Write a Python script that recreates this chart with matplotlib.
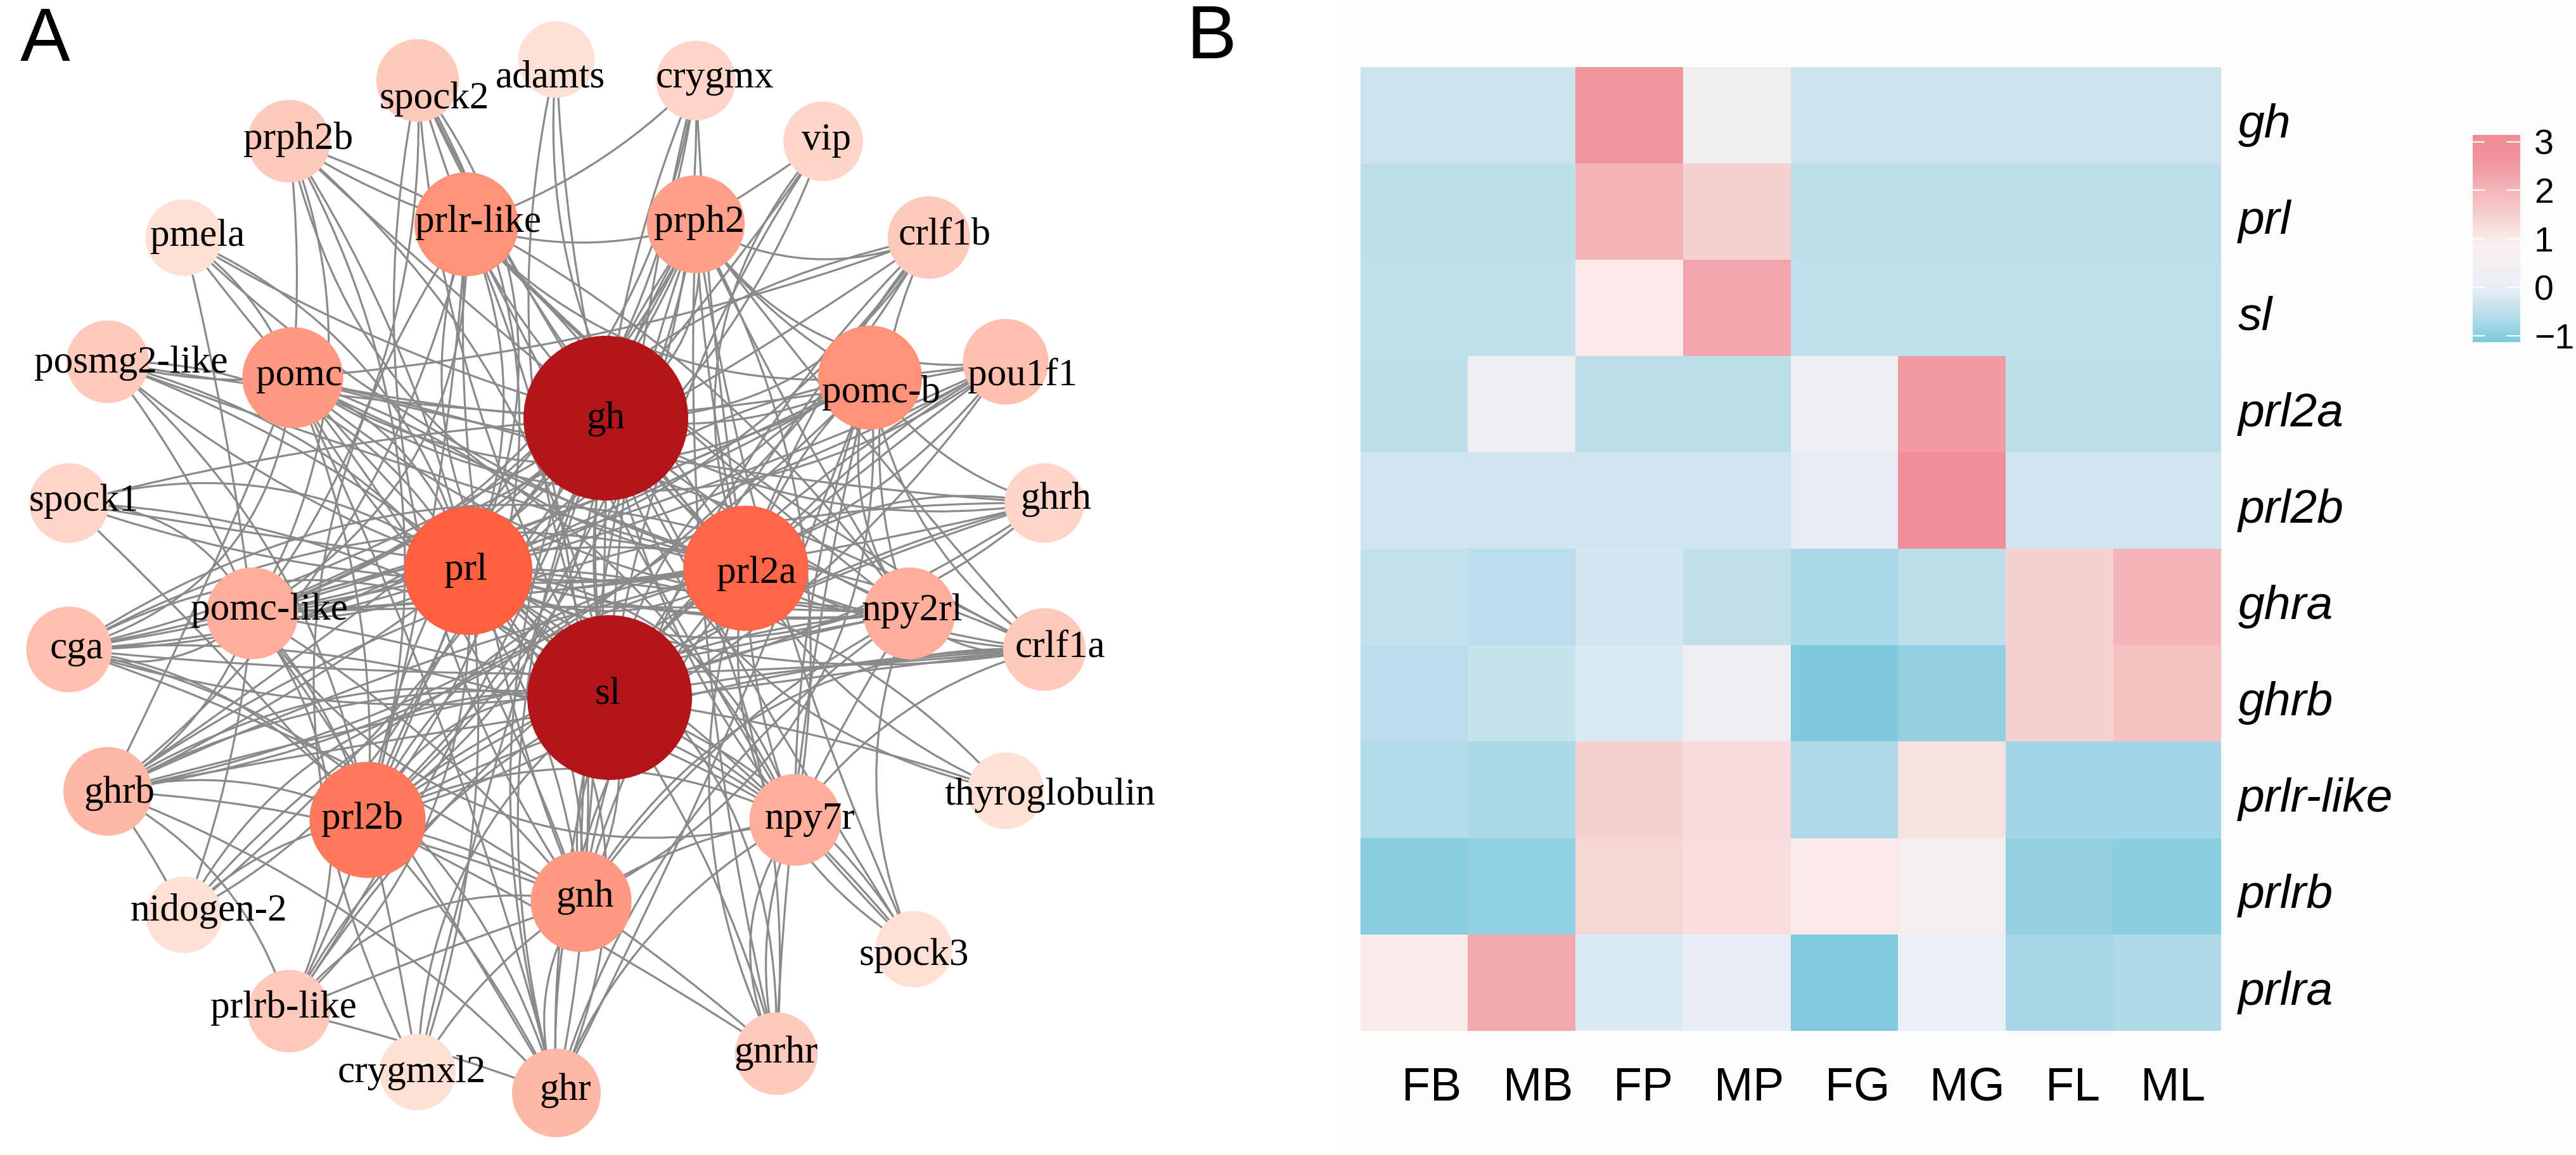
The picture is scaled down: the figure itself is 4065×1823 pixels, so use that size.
import numpy as np
import matplotlib
matplotlib.use("Agg")
import matplotlib.pyplot as plt
from matplotlib.colors import LinearSegmentedColormap
from matplotlib.patches import Circle, PathPatch, Rectangle
from matplotlib.path import Path

W, H = 4066, 1823

# network data
node_names = ['gh', 'sl', 'prl', 'prl2a', 'prl2b', 'pomc-b', 'prlr-like', 'pomc', 'gnh', 'prph2',
              'pomc-like', 'npy7r', 'npy2rl', 'ghrb', 'ghr', 'cga', 'pou1f1', 'gnrhr', 'crlf1b',
              'crlf1a', 'prlrb-like', 'prph2b', 'spock2', 'posmg2-like', 'ghrh', 'spock1',
              'crygmx', 'vip', 'spock3', 'thyroglobulin', 'pmela', 'nidogen-2', 'crygmxl2', 'adamts']
node_degree = [30, 30, 18, 17, 14, 10, 10, 9, 9, 8,
               6, 6, 6, 5, 5, 4, 4, 3, 3,
               3, 3, 3, 3, 3, 2, 2,
               2, 2, 1, 1, 1, 1, 1, 1]

outer_links = {
    'adamts': ['gh', 'sl', 'prl2a'],
    'spock2': ['gh', 'sl', 'prl', 'prlr-like', 'pomc-like', 'prl2a', 'prl2b', 'gnh'],
    'crygmx': ['gh', 'sl', 'prl', 'prl2b', 'prl2a', 'prlr-like', 'pomc-like'],
    'prph2b': ['gh', 'sl', 'prl', 'prl2a', 'prl2b', 'prlr-like', 'pomc', 'npy2rl', 'pomc-like'],
    'vip': ['gh', 'sl', 'prl2a', 'prph2', 'prl'],
    'prlr-like': ['gh', 'sl', 'prl', 'prl2a', 'prl2b', 'prph2', 'pomc-b', 'npy2rl', 'gnh', 'pomc-like', 'npy7r', 'ghrb', 'crlf1a'],
    'prph2': ['gh', 'sl', 'prl', 'prl2a', 'prl2b', 'crlf1b', 'npy2rl', 'pomc-b', 'pou1f1', 'crlf1a', 'npy7r', 'gnh', 'cga', 'pomc-like'],
    'pmela': ['gh', 'sl', 'pomc', 'prl', 'pomc-like', 'prl2a'],
    'crlf1b': ['gh', 'sl', 'prl', 'prl2a', 'prl2b', 'npy2rl', 'pomc', 'pomc-like', 'gnh', 'ghrb'],
    'posmg2-like': ['gh', 'sl', 'prl', 'prl2a', 'prl2b', 'pomc', 'gnh', 'npy2rl', 'pomc-like'],
    'pomc': ['gh', 'sl', 'prl', 'prl2a', 'prl2b', 'pomc-b', 'ghrb', 'npy2rl', 'gnh', 'cga', 'npy7r', 'crlf1a', 'ghrh'],
    'pomc-b': ['gh', 'sl', 'prl', 'prl2a', 'prl2b', 'pou1f1', 'ghrh', 'npy7r', 'gnh', 'crlf1a', 'cga', 'pomc-like', 'ghrb', 'npy2rl'],
    'pou1f1': ['gh', 'sl', 'prl', 'prl2a', 'prl2b', 'pomc-like', 'pomc', 'gnh', 'cga'],
    'spock1': ['gh', 'sl', 'prl', 'prl2b', 'prl2a', 'pomc-like', 'npy2rl'],
    'ghrh': ['gh', 'sl', 'prl', 'prl2a', 'prl2b', 'pomc-like', 'ghrb', 'cga'],
    'prl': ['gh', 'sl', 'prl2a', 'prl2b', 'pomc-like', 'npy2rl', 'npy7r', 'gnh', 'cga', 'ghrb', 'crlf1a', 'thyroglobulin'],
    'prl2a': ['gh', 'sl', 'prl2b', 'pomc-like', 'npy2rl', 'npy7r', 'gnh', 'cga', 'crlf1a', 'ghrb', 'thyroglobulin'],
    'pomc-like': ['gh', 'sl', 'prl2b', 'cga', 'npy2rl', 'ghrb', 'gnh', 'npy7r', 'crlf1a'],
    'npy2rl': ['gh', 'sl', 'prl2b', 'crlf1a', 'npy7r', 'gnh', 'cga', 'ghrb', 'ghr'],
    'cga': ['gh', 'sl', 'prl2b', 'gnh', 'crlf1a', 'npy7r'],
    'crlf1a': ['gh', 'sl', 'prl2b', 'gnh', 'ghrb', 'npy7r'],
    'sl': ['gh', 'prl2b', 'gnh', 'npy7r', 'thyroglobulin', 'ghrb'],
    'gh': ['prl2b', 'gnh', 'npy7r', 'thyroglobulin', 'ghrb'],
    'ghrb': ['prl2b', 'gnh', 'npy7r', 'prlrb-like'],
    'prl2b': ['gnh', 'prlrb-like', 'nidogen-2', 'npy7r', 'gnrhr'],
    'npy7r': ['gnh', 'gnrhr', 'spock3', 'ghr'],
    'nidogen-2': ['gh', 'sl', 'prl', 'pomc-like', 'ghrb', 'prl2a'],
    'gnh': ['ghr', 'gnrhr', 'crygmxl2', 'prlrb-like'],
    'spock3': ['gh', 'sl', 'prl', 'prl2a', 'npy2rl', 'prph2'],
    'prlrb-like': ['gh', 'sl', 'prl', 'ghr', 'prl2a', 'pomc-like', 'gnh'],
    'gnrhr': ['gh', 'sl', 'prl', 'prl2a', 'prph2', 'pomc-b', 'npy7r'],
    'crygmxl2': ['sl', 'gh', 'prl', 'prlr-like', 'prl2b'],
    'ghr': ['gh', 'sl', 'prl', 'prl2a', 'prl2b', 'pomc', 'prlr-like', 'prph2', 'pomc-b', 'ghrb', 'cga', 'pomc-like'],
}

# heatmap data
samples = ['FB', 'MB', 'FP', 'MP', 'FG', 'MG', 'FL', 'ML']
genes = ['gh', 'prl', 'sl', 'prl2a', 'prl2b', 'ghra', 'ghrb', 'prlr-like', 'prlrb', 'prlra']
gh_expr = [-0.35, -0.35, 2.6, 0.45, -0.35, -0.35, -0.35, -0.35]
prl_expr = [-0.52, -0.52, 2.0, 1.45, -0.52, -0.52, -0.52, -0.52]
sl_expr = [-0.48, -0.48, 1.0, 2.3, -0.48, -0.48, -0.48, -0.48]
prl2a_expr = [-0.52, 0.35, -0.52, -0.52, 0.3, 2.5, -0.52, -0.52]
prl2b_expr = [-0.28, -0.28, -0.28, -0.28, 0.0, 2.75, -0.28, -0.28]
ghra_expr = [-0.45, -0.55, -0.25, -0.47, -0.68, -0.52, 1.45, 2.0]
ghrb_expr = [-0.55, -0.42, -0.15, 0.25, -1.08, -0.9, 1.45, 1.75]
prlr_like_expr = [-0.62, -0.68, 1.45, 1.25, -0.65, 1.15, -0.76, -0.76]
prlrb_expr = [-1.0, -0.92, 1.35, 1.22, 1.0, 0.6, -0.9, -0.97]
prlra_expr = [0.95, 2.25, -0.15, 0.0, -1.07, 0.1, -0.72, -0.65]
expr = np.array([gh_expr, prl_expr, sl_expr, prl2a_expr, prl2b_expr,
                 ghra_expr, ghrb_expr, prlr_like_expr, prlrb_expr, prlra_expr])

# layout of the network, in picture pixels
node_xy = {'spock2': (659, 127), 'adamts': (878, 94), 'crygmx': (1098, 127), 'prph2b': (456, 223),
           'vip': (1299, 223), 'prlr-like': (736, 354), 'prph2': (1098, 354), 'pmela': (290, 375),
           'crlf1b': (1466, 375), 'posmg2-like': (170, 571), 'pomc': (462, 596), 'pomc-b': (1373, 596),
           'pou1f1': (1587, 571), 'gh': (956, 660), 'spock1': (109, 794), 'ghrh': (1648, 794),
           'prl': (739, 901), 'prl2a': (1177, 897), 'pomc-like': (398, 968), 'npy2rl': (1435, 968),
           'cga': (109, 1025), 'crlf1a': (1648, 1025), 'sl': (962, 1101), 'ghrb': (170, 1249),
           'prl2b': (580, 1294), 'thyroglobulin': (1587, 1248), 'npy7r': (1255, 1294),
           'nidogen-2': (290, 1444), 'gnh': (917, 1423), 'spock3': (1442, 1498),
           'prlrb-like': (456, 1596), 'gnrhr': (1225, 1663), 'crygmxl2': (659, 1692), 'ghr': (878, 1725)}
label_xy = {'spock2': (685, 156), 'adamts': (869, 123), 'crygmx': (1128, 123), 'prph2b': (471, 220),
            'vip': (1304, 221), 'prlr-like': (755, 351), 'prph2': (1103, 351), 'pmela': (312, 373),
            'crlf1b': (1491, 371), 'posmg2-like': (207, 573), 'pomc': (472, 593), 'pomc-b': (1391, 620),
            'pou1f1': (1614, 593), 'gh': (956, 661), 'spock1': (132, 791), 'ghrh': (1666, 788),
            'prl': (735, 900), 'prl2a': (1194, 905), 'pomc-like': (425, 963), 'npy2rl': (1439, 964),
            'cga': (121, 1024), 'crlf1a': (1673, 1022), 'sl': (959, 1097), 'ghrb': (188, 1252),
            'prl2b': (572, 1293), 'thyroglobulin': (1657, 1255), 'npy7r': (1278, 1293),
            'nidogen-2': (329, 1438), 'gnh': (923, 1416), 'spock3': (1442, 1508),
            'prlrb-like': (447, 1591), 'gnrhr': (1225, 1662), 'crygmxl2': (650, 1693), 'ghr': (892, 1721)}
bend = [0.05, 0.16, 0.24, 0.03, 0.12, 0.3, 0.02, 0.18, 0.09, 0.34, 0.21, 0.07]
net_centre = np.array([878.0, 910.0])

node_cmap = LinearSegmentedColormap.from_list('nodes', [
    (0.0, '#FFE0D5'), (2 / 29, '#FFC8BA'), (5 / 29, '#FFAE9C'),
    (9 / 29, '#FF9278'), (17 / 29, '#FF6040'), (1.0, '#B2161A')])
heat_cmap = LinearSegmentedColormap.from_list('heat', [
    (0.0, '#7CC9DE'), (0.147, '#C0E0EC'), (0.265, '#E9EEF6'), (0.476, '#FBEEEE'),
    (0.616, '#F6CFCF'), (0.733, '#F4B6B9'), (0.897, '#F0909A'), (1.0, '#F08C94')])
vmin, vmax = -1.13, 3.14

fig = plt.figure(figsize=(W / 100, H / 100), dpi=100, facecolor='white')


def box(x0, y0, x1, y1):
    return [x0 / W, 1 - y1 / H, (x1 - x0) / W, (y1 - y0) / H]


ax = fig.add_axes([0, 0, 1, 1])
ax.set_xlim(0, W)
ax.set_ylim(H, 0)
ax.axis('off')
ax.add_patch(Rectangle((2110, 0), W - 2110, H, fc='#FDFDFD', ec='none', zorder=0))

# edges, all bowed towards the middle of the network
count = 0
for a, targets in outer_links.items():
    for b in targets:
        p0 = np.array(node_xy[a], float)
        p1 = np.array(node_xy[b], float)
        d = p1 - p0
        mid = (p0 + p1) / 2
        off = bend[count % len(bend)] * np.array([d[1], -d[0]])
        # every fifth one goes the other way
        inward = np.linalg.norm(mid + off - net_centre) < np.linalg.norm(mid - off - net_centre)
        if inward == (count % 5 == 0) and np.linalg.norm(mid - net_centre) < 420:
            off = -off
        elif not inward and np.linalg.norm(mid - net_centre) >= 420:
            off = -off
        ctrl = mid + off
        ax.add_patch(PathPatch(Path([p0, ctrl, p1], [Path.MOVETO, Path.CURVE3, Path.CURVE3]),
                               fc='none', ec='#8A8A8A', lw=2.3, zorder=1))
        count += 1

# nodes
for name, deg in zip(node_names, node_degree):
    ax.add_patch(Circle(node_xy[name], 58 + 2.4 * deg, fc=node_cmap((deg - 1) / 29), ec='none', zorder=2))
    ax.text(*label_xy[name], name, family='Liberation Serif', fontsize=44, ha='center', va='center', zorder=3)

ax.text(71, 65, 'A', family='Liberation Sans', fontsize=85, ha='center', va='center')
ax.text(1912, 62, 'B', family='Liberation Sans', fontsize=85, ha='center', va='center')

# heatmap
hm = fig.add_axes(box(2147, 106, 3505, 1627))
im = hm.imshow(expr, aspect='auto', cmap=heat_cmap, vmin=vmin, vmax=vmax, interpolation='nearest')
for s in hm.spines.values():
    s.set_visible(False)
hm.set_xticks(np.arange(len(samples)) + np.array([0.16, 0.15, 0.13, 0.11, 0.12, 0.14, 0.12, 0.05]))
hm.set_xticklabels(samples, family='Liberation Sans', fontsize=53)
hm.set_yticks(np.arange(len(genes)) + 0.05)
hm.set_yticklabels(genes, family='Liberation Sans', style='italic', fontsize=54)
hm.yaxis.tick_right()
hm.tick_params(length=0, axis='x', pad=40)
hm.tick_params(length=0, axis='y', pad=19)

# colour key
cax = fig.add_axes(box(3902, 213, 3977, 540))
cb = fig.colorbar(im, cax=cax, ticks=[-1, 0, 1, 2, 3])
cb.outline.set_visible(False)
cb.ax.tick_params(length=0, labelsize=40, pad=16)
cb.ax.set_yticklabels(['\u22121', '0', '1', '2', '3'], family='Liberation Sans')
for t in [-1, 0, 1, 2, 3]:
    cax.plot([0, 0.24], [t, t], color='white', lw=1.5, transform=cax.get_yaxis_transform())
    cax.plot([0.72, 1], [t, t], color='white', lw=1.5, transform=cax.get_yaxis_transform())

fig.savefig('out.png', dpi=100)
